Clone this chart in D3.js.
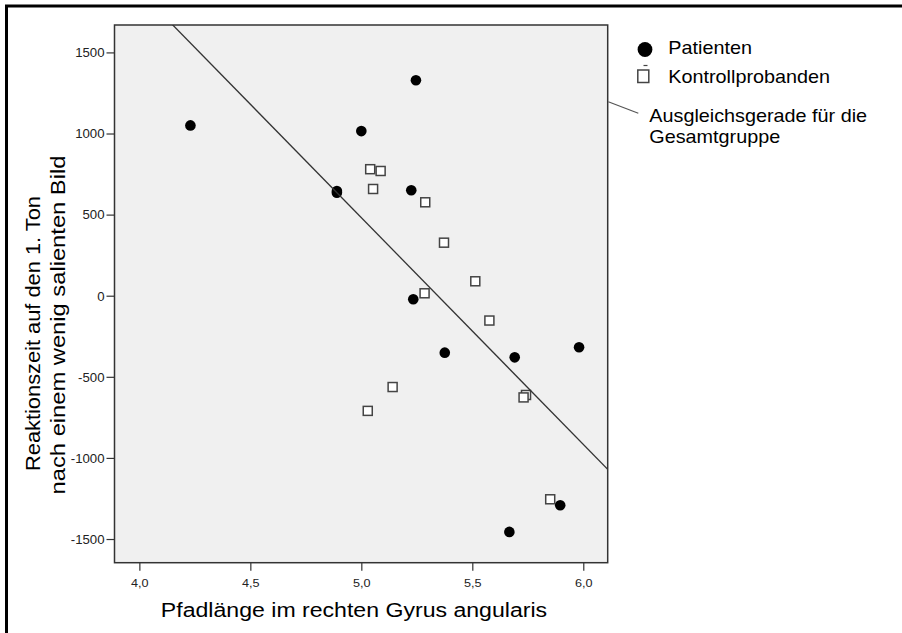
<!DOCTYPE html>
<html>
<head>
<meta charset="utf-8">
<script src="https://cdn.jsdelivr.net/npm/d3@7/dist/d3.min.js"></script>
<style>
  html, body { margin: 0; padding: 0; background: #fff; }
  svg { display: block; }
  text { font-family: "Liberation Sans", Arial, Helvetica, sans-serif; }
</style>
</head>
<body>
<svg id="chart" width="902" height="633"></svg>
<script>
// Patients (filled circles): path length vs. reaction time
const patientX = [4.23, 4.89, 4.89, 5.00, 5.246, 5.225, 5.234, 5.376, 5.691, 5.981, 5.896, 5.667];
const patientY = [1050, 645, 635, 1015, 1328, 650, -22, -351, -380, -318, -1292, -1456];

// Control subjects (open squares)
const controlX = [5.04, 5.087, 5.053, 5.288, 5.3725, 5.5135, 5.285, 5.577, 5.141, 5.029, 5.742, 5.731, 5.851];
const controlY = [780, 769, 658, 576, 327, 89, 15, -153, -563, -710, -612, -627, -1255];

const xTicks = [4.0, 4.5, 5.0, 5.5, 6.0];
const xTickLabels = ["4,0", "4,5", "5,0", "5,5", "6,0"];
const yTicks = [-1500, -1000, -500, 0, 500, 1000, 1500];

const xTitle = "Pfadlänge im rechten Gyrus angularis";
const yTitle = ["Reaktionszeit auf den 1. Ton", "nach einem wenig salienten Bild"];
const legendLabels = ["Patienten", "Kontrollprobanden"];
const fitLabel = ["Ausgleichsgerade für die", "Gesamtgruppe"];

const svg = d3.select("#chart");
const plot = { left: 114.5, right: 607.7, top: 25, bottom: 562.7 };
const stretch = "scale(1.1,1)";

const x = d3.scaleLinear().domain([3.888, 6.110]).range([plot.left, plot.right]);
const y = d3.scaleLinear().domain([-1646, 1669]).range([plot.bottom, plot.top]);

// outer frame (top and left edges)
svg.append("line").attr("x1", 5).attr("x2", 902).attr("y1", 6).attr("y2", 6)
  .attr("stroke", "#000").attr("stroke-width", 3);
svg.append("line").attr("x1", 6.5).attr("x2", 6.5).attr("y1", 5).attr("y2", 633)
  .attr("stroke", "#000").attr("stroke-width", 3);

// plot background
svg.append("rect")
  .attr("x", plot.left).attr("y", plot.top)
  .attr("width", plot.right - plot.left).attr("height", plot.bottom - plot.top)
  .attr("fill", "#f0f0f0");

svg.append("clipPath").attr("id", "plotClip").append("rect")
  .attr("x", plot.left).attr("y", plot.top)
  .attr("width", plot.right - plot.left).attr("height", plot.bottom - plot.top);

// axes
const yAxis = svg.append("g")
  .attr("transform", `translate(${plot.left},0)`)
  .call(d3.axisLeft(y).tickValues(yTicks).tickSize(8).tickSizeOuter(0).tickFormat(d => String(d)));
yAxis.select(".domain").remove();
yAxis.selectAll(".tick line").attr("stroke", "#333").attr("stroke-width", 1.2);
yAxis.selectAll(".tick text")
  .attr("x", null).attr("dy", null)
  .attr("transform", `translate(-10,4.3) ${stretch}`)
  .attr("text-anchor", "end")
  .attr("font-size", 12).attr("fill", "#222");

const xAxis = svg.append("g")
  .attr("transform", `translate(0,${plot.bottom})`)
  .call(d3.axisBottom(x).tickValues(xTicks).tickSize(8).tickSizeOuter(0).tickFormat((d, i) => xTickLabels[i]));
xAxis.select(".domain").remove();
xAxis.selectAll(".tick line").attr("stroke", "#333").attr("stroke-width", 1.2);
xAxis.selectAll(".tick text")
  .attr("y", null).attr("dy", null)
  .attr("transform", `translate(0,24.3) ${stretch}`)
  .attr("text-anchor", "middle")
  .attr("font-size", 11.5).attr("fill", "#222");

// plot frame
svg.append("rect")
  .attr("x", plot.left).attr("y", plot.top)
  .attr("width", plot.right - plot.left).attr("height", plot.bottom - plot.top)
  .attr("fill", "none").attr("stroke", "#333").attr("stroke-width", 1.5);

// markers
const controls = controlX.map((v, i) => ({ x: v, y: controlY[i] }));
const patients = patientX.map((v, i) => ({ x: v, y: patientY[i] }));
const sq = 9;

const marks = svg.append("g").attr("clip-path", "url(#plotClip)");
marks.selectAll("rect.control").data(controls).join("rect")
  .attr("class", "control")
  .attr("x", d => x(d.x) - sq / 2).attr("y", d => y(d.y) - sq / 2)
  .attr("width", sq).attr("height", sq)
  .attr("fill", "#fff").attr("stroke", "#444").attr("stroke-width", 1.5);

marks.selectAll("circle.patient").data(patients).join("circle")
  .attr("class", "patient")
  .attr("cx", d => x(d.x)).attr("cy", d => y(d.y)).attr("r", 5.3)
  .attr("fill", "#000");

// least-squares fit for the whole group
const all = patients.concat(controls);
const mx = d3.mean(all, d => d.x), my = d3.mean(all, d => d.y);
const slope = d3.sum(all, d => (d.x - mx) * (d.y - my)) / d3.sum(all, d => (d.x - mx) ** 2);
const intercept = my - slope * mx;
const [x0, x1] = x.domain();
marks.append("line")
  .attr("x1", x(x0)).attr("y1", y(intercept + slope * x0))
  .attr("x2", x(x1)).attr("y2", y(intercept + slope * x1))
  .attr("stroke", "#333").attr("stroke-width", 1.3);

// axis titles
svg.append("text")
  .attr("transform", `translate(354,616.7) ${stretch}`)
  .attr("text-anchor", "middle").attr("font-size", 21).attr("fill", "#000")
  .text(xTitle);

// two-line y title: each line gets its own centre and horizontal stretch
const yTitleLayout = [
  { bx: 39.5, cy: 333.5, sx: 1.04 },
  { bx: 65, cy: 325, sx: 1.13 }
];
yTitle.forEach((t, i) => {
  const l = yTitleLayout[i];
  svg.append("text")
    .attr("transform", `translate(${l.bx},${l.cy}) rotate(-90) scale(${l.sx},1)`)
    .attr("text-anchor", "middle").attr("font-size", 21).attr("fill", "#000")
    .text(t);
});

// legend
const lg = svg.append("g");
lg.append("circle").attr("cx", 645).attr("cy", 49.5).attr("r", 7.4).attr("fill", "#000");
lg.append("rect").attr("x", 637.8).attr("y", 70).attr("width", 11).attr("height", 12.5)
  .attr("fill", "#fff").attr("stroke", "#444").attr("stroke-width", 1.5);
lg.append("line").attr("x1", 643.5).attr("x2", 647.5).attr("y1", 65.5).attr("y2", 65.5)
  .attr("stroke", "#444").attr("stroke-width", 1.2);
legendLabels.forEach((t, i) => {
  lg.append("text")
    .attr("transform", `translate(668.3,${54.3 + i * 28.4}) ${stretch}`)
    .attr("font-size", 18).attr("fill", "#000").text(t);
});

// annotation for the fit line
lg.append("line").attr("x1", 608.3).attr("y1", 101.7).attr("x2", 638.3).attr("y2", 113.3)
  .attr("stroke", "#555").attr("stroke-width", 1.2);
fitLabel.forEach((t, i) => {
  lg.append("text")
    .attr("transform", `translate(649.3,${121.7 + i * 21.6}) ${stretch}`)
    .attr("font-size", 18).attr("fill", "#000").text(t);
});
</script>
</body>
</html>
